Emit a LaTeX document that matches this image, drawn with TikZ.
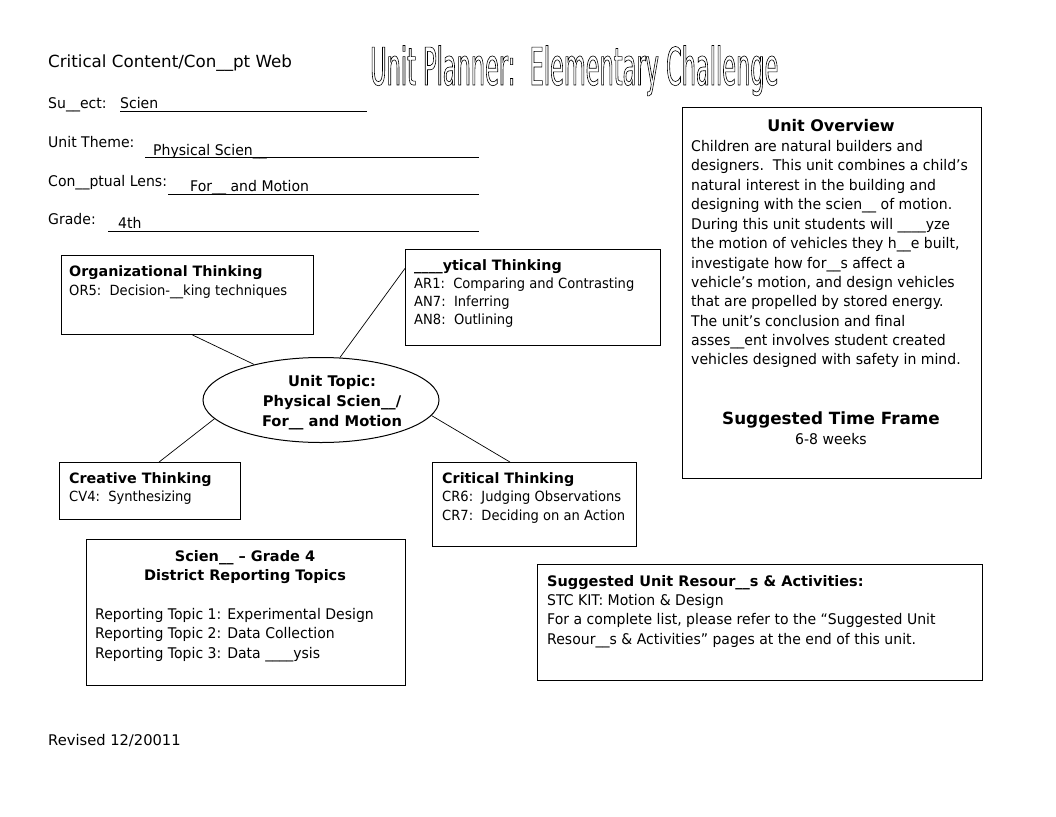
\documentclass[tikz,border=0pt]{standalone}
\usepackage{fontspec}
\setmainfont{DejaVu Sans}
\newfontfamily\tah[FakeStretch=0.935]{DejaVu Sans}
\newfontfamily\vrd[FakeStretch=0.955]{DejaVu Sans}
\newfontfamily\ttl[FakeStretch=0.432]{DejaVu Sans}
\usetikzlibrary{shapes.geometric,calc}
\newcommand{\outl}[1]{\special{pdf:literal direct 1 Tr 0.6 w}#1\special{pdf:literal direct 0 Tr}}
\begin{document}
\begin{tikzpicture}[x=1pt,y=-1pt,
  tx/.style={anchor=base west,inner sep=0pt,font=\fontsize{16.7}{19}\selectfont},
  ov/.style={anchor=base west,inner sep=0pt,font=\fontsize{14.7}{18}\selectfont\vrd},
  hd/.style={anchor=base west,inner sep=0pt,font=\fontsize{14.3}{16}\selectfont\bfseries},
  sm/.style={anchor=base west,inner sep=0pt,font=\fontsize{14}{16}\selectfont\tah},
  box/.style={draw,line width=1pt,anchor=north west,inner sep=0pt},
  conn/.style={line width=0.7pt},
  rule/.style={line width=0.9pt}]
\useasboundingbox[fill=white] (0,0) rectangle (1056,816);

% header
\node[tx] (crit) at (48,67) {Critical Content/Con\_\_pt Web};
\node[anchor=base west,inner sep=0pt,font=\fontsize{52}{60}\selectfont\ttl] (title) at (370,85) {\outl{Unit Planner:\ \ Elementary Challenge}};

\node[ov] (subj) at (48,108) {Su\_\_ect:};
\node[ov] (subjv) at (120,108) {Scien};
\coordinate (s1) at (120,111); \coordinate (s2) at (367,111);
\draw[rule] (s1) -- (s2);

\node[ov] (theme) at (48,147) {Unit Theme:};
\node[ov] (themev) at (153,155) {Physical Scien\_\_};
\coordinate (t1) at (145,157); \coordinate (t2) at (479,157);
\draw[rule] (t1) -- (t2);

\node[ov] (lens) at (48,186) {Con\_\_ptual Lens:};
\node[ov] (lensv) at (190,191) {For\_\_ and Motion};
\coordinate (l1) at (168,194); \coordinate (l2) at (479,194);
\draw[rule] (l1) -- (l2);

\node[ov] (grade) at (48,224) {Grade:};
\node[ov] (gradev) at (118,228) {4th};
\coordinate (g1) at (108,231); \coordinate (g2) at (479,231);
\draw[rule] (g1) -- (g2);

% overview box
\node[box,minimum width=299pt,minimum height=371pt] (ovbox) at (682,107) {};
\node[anchor=base,inner sep=0pt,font=\fontsize{16}{19}\selectfont\bfseries] (ovh) at (831,131) {Unit Overview};
\node[ov] (o1) at (691,151) {Children are natural builders and};
\node[ov] (o2) at (691,170) {designers.\ \ This unit combines a child’s};
\node[ov] (o3) at (691,190) {natural interest in the building and};
\node[ov] (o4) at (691,209) {designing with the scien\_\_ of motion.};
\node[ov] (o5) at (691,229) {During this unit students will \_\_\_\_yze};
\node[ov] (o6) at (691,248) {the motion of vehicles they h\_\_e built,};
\node[ov] (o7) at (691,268) {investigate how for\_\_s affect a};
\node[ov] (o8) at (691,287) {vehicle’s motion, and design vehicles};
\node[ov] (o9) at (691,306) {that are propelled by stored energy.};
\node[ov] (o10) at (691,326) {The unit’s conclusion and final};
\node[ov] (o11) at (691,345) {asses\_\_ent involves student created};
\node[ov] (o12) at (691,364) {vehicles designed with safety in mind.};
\node[anchor=base,inner sep=0pt,font=\fontsize{16.8}{20}\selectfont\bfseries] (tfh) at (831,424) {Suggested Time Frame};
\node[anchor=base,inner sep=0pt,font=\fontsize{14.7}{18}\selectfont\vrd] (tfv) at (831,444) {6-8 weeks};

% organizational
\node[box,minimum width=252pt,minimum height=79pt] (org) at (61,255) {};
\node[hd] (orgh) at (69,276) {Organizational Thinking};
\node[sm] (org1) at (69,295) {OR5:\ \ Decision-\_\_king techniques};

% analytical
\node[box,minimum width=255pt,minimum height=96pt] (ana) at (405,249) {};
\node[hd] (anah) at (414,270) {\_\_\_\_ytical Thinking};
\node[sm] (ana1) at (414,288) {AR1:\ \ Comparing and Contrasting};
\node[sm] (ana2) at (414,306) {AN7:\ \ Inferring};
\node[sm] (ana3) at (414,324) {AN8:\ \ Outlining};

% ellipse
\node[ellipse,draw,line width=1pt,minimum width=236pt,minimum height=85pt,inner sep=0pt] (topic) at (321,400) {};
\node[anchor=base,inner sep=0pt,font=\fontsize{14.7}{18}\selectfont\bfseries] (tp1) at (332,386) {Unit Topic:};
\node[anchor=base,inner sep=0pt,font=\fontsize{14.7}{18}\selectfont\bfseries] (tp2) at (332,406) {Physical Scien\_\_/};
\node[anchor=base,inner sep=0pt,font=\fontsize{14.7}{18}\selectfont\bfseries] (tp3) at (332,426) {For\_\_ and Motion};

% creative
\node[box,minimum width=181pt,minimum height=57pt] (cre) at (59,462) {};
\node[hd] (creh) at (69,483) {Creative Thinking};
\node[sm] (cre1) at (69,501) {CV4:\ \ Synthesizing};

% critical
\node[box,minimum width=204pt,minimum height=84pt] (crt) at (432,462) {};
\node[hd] (crth) at (442,483) {Critical Thinking};
\node[sm] (crt1) at (442,501) {CR6:\ \ Judging Observations};
\node[sm] (crt2) at (442,520) {CR7:\ \ Deciding on an Action};

% science
\node[box,minimum width=319pt,minimum height=146pt] (sci) at (86,539) {};
\node[anchor=base,inner sep=0pt,font=\fontsize{14.5}{18}\selectfont\bfseries] (scih1) at (245,561) {Scien\_\_ – Grade 4};
\node[anchor=base,inner sep=0pt,font=\fontsize{14.5}{18}\selectfont\bfseries] (scih2) at (245,580) {District Reporting Topics};
\node[ov] (sci1) at (95,619) {Reporting Topic 1: Experimental Design};
\node[ov] (sci2) at (95,638) {Reporting Topic 2: Data Collection};
\node[ov] (sci3) at (95,658) {Reporting Topic 3: Data \_\_\_\_ysis};

% resources
\node[box,minimum width=445pt,minimum height=116pt] (res) at (537,564) {};
\node[anchor=base west,inner sep=0pt,font=\fontsize{14.5}{18}\selectfont\bfseries] (resh) at (547,586) {Suggested Unit Resour\_\_s \& Activities:};
\node[ov] (res1) at (547,605) {STC KIT: Motion \& Design};
\node[ov] (res2) at (547,624) {For a complete list, please refer to the “Suggested Unit};
\node[ov] (res3) at (547,644) {Resour\_\_s \& Activities” pages at the end of this unit.};

\node[anchor=base west,inner sep=0pt,font=\fontsize{14.7}{18}\selectfont] (rev) at (48,745) {Revised 12/20011};

% connectors
\draw[conn] ($(org.south west)!0.52!(org.south east)$) -- (topic.152);
\draw[conn] ($(ana.north west)!0.2!(ana.south west)$) -- (topic.66);
\draw[conn] ($(cre.north west)!0.55!(cre.north east)$) -- (topic.190);
\draw[conn] ($(crt.north west)!0.38!(crt.north east)$) -- (topic.-8);
\end{tikzpicture}
\end{document}
